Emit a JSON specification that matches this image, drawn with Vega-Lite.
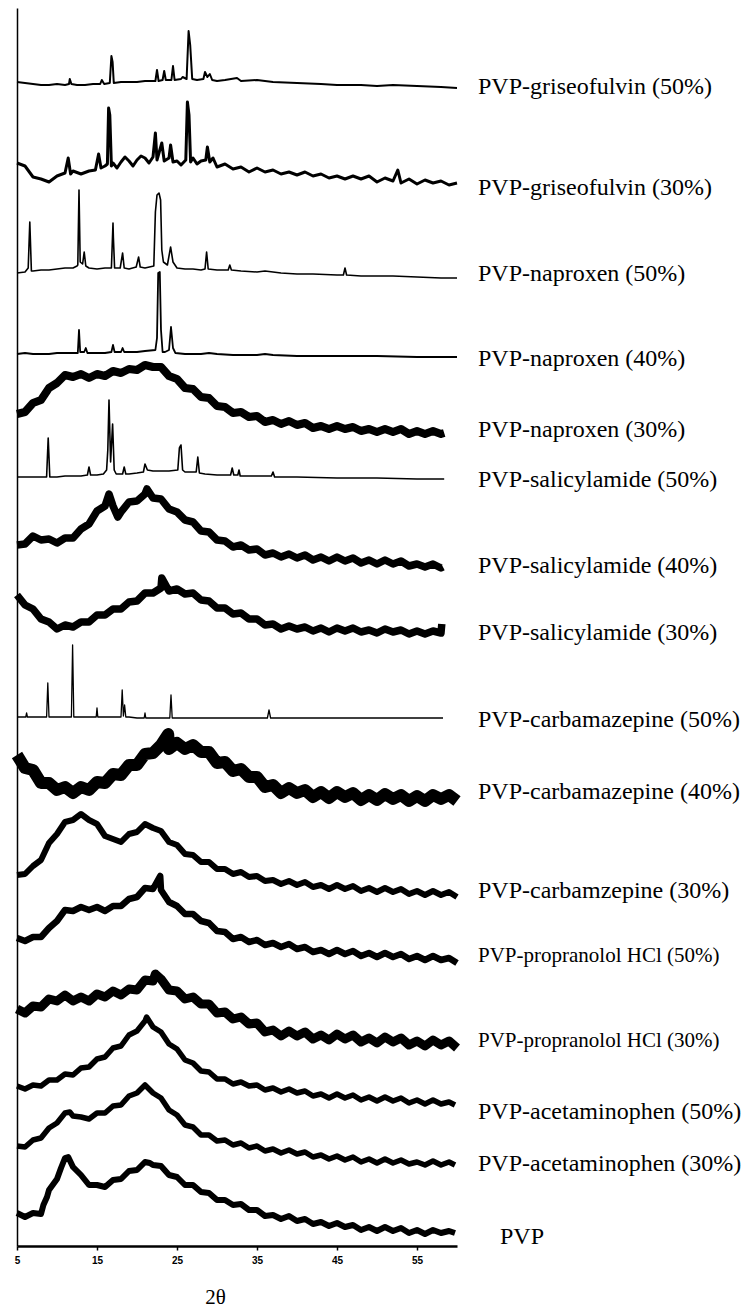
{
"$schema": "https://vega.github.io/schema/vega-lite/v6.json",
"width": 440, "height": 1238,
"autosize": {"type": "none"},
"padding": {"left": 17, "top": 8, "right": 286, "bottom": 63},
"background": "white",
"config": {"view": {"stroke": null}},
"datasets": {
"xrd": [
{"s":"g50","t":5,"i":1164},{"s":"g50","t":6,"i":1163},{"s":"g50","t":7,"i":1162},{"s":"g50","t":8,"i":1161},{"s":"g50","t":9,"i":1161},{"s":"g50","t":10,"i":1162},{"s":"g50","t":11,"i":1161},{"s":"g50","t":11.5,"i":1162},{"s":"g50","t":11.6,"i":1167},{"s":"g50","t":11.8,"i":1162},{"s":"g50","t":12.5,"i":1161},{"s":"g50","t":13.5,"i":1161},{"s":"g50","t":14.5,"i":1162},{"s":"g50","t":15.4,"i":1162},{"s":"g50","t":15.6,"i":1166},{"s":"g50","t":15.9,"i":1162},{"s":"g50","t":16.6,"i":1163},{"s":"g50","t":16.8,"i":1190},{"s":"g50","t":16.95,"i":1184},{"s":"g50","t":17.1,"i":1163},{"s":"g50","t":18,"i":1164},{"s":"g50","t":19,"i":1164},{"s":"g50","t":20,"i":1164},{"s":"g50","t":21,"i":1165},{"s":"g50","t":22.3,"i":1165},{"s":"g50","t":22.5,"i":1176},{"s":"g50","t":22.7,"i":1165},{"s":"g50","t":23.2,"i":1166},{"s":"g50","t":23.4,"i":1175},{"s":"g50","t":23.6,"i":1166},{"s":"g50","t":24.3,"i":1166},{"s":"g50","t":24.5,"i":1180},{"s":"g50","t":24.7,"i":1166},{"s":"g50","t":25.5,"i":1167},{"s":"g50","t":25.7,"i":1169},{"s":"g50","t":26.2,"i":1167},{"s":"g50","t":26.45,"i":1215},{"s":"g50","t":26.65,"i":1201},{"s":"g50","t":26.9,"i":1167},{"s":"g50","t":27.5,"i":1166},{"s":"g50","t":28.3,"i":1167},{"s":"g50","t":28.5,"i":1174},{"s":"g50","t":28.8,"i":1169},{"s":"g50","t":29.1,"i":1172},{"s":"g50","t":29.4,"i":1166},{"s":"g50","t":30,"i":1165},{"s":"g50","t":31,"i":1166},{"s":"g50","t":32.5,"i":1168},{"s":"g50","t":33,"i":1165},{"s":"g50","t":35,"i":1166},{"s":"g50","t":37,"i":1164},{"s":"g50","t":40,"i":1163},{"s":"g50","t":43,"i":1162},{"s":"g50","t":45,"i":1161},{"s":"g50","t":48,"i":1161},{"s":"g50","t":50,"i":1160},{"s":"g50","t":52,"i":1161},{"s":"g50","t":55,"i":1160},{"s":"g50","t":58,"i":1159},{"s":"g50","t":60,"i":1158},
{"s":"g30","t":5,"i":1083},{"s":"g30","t":6,"i":1080},{"s":"g30","t":7,"i":1069},{"s":"g30","t":8,"i":1067},{"s":"g30","t":9,"i":1064},{"s":"g30","t":10,"i":1070},{"s":"g30","t":11,"i":1073},{"s":"g30","t":11.4,"i":1088},{"s":"g30","t":11.7,"i":1072},{"s":"g30","t":12,"i":1075},{"s":"g30","t":13,"i":1072},{"s":"g30","t":14,"i":1075},{"s":"g30","t":14.8,"i":1076},{"s":"g30","t":15.2,"i":1092},{"s":"g30","t":15.5,"i":1078},{"s":"g30","t":16,"i":1080},{"s":"g30","t":16.3,"i":1082},{"s":"g30","t":16.45,"i":1138},{"s":"g30","t":16.6,"i":1131},{"s":"g30","t":16.8,"i":1080},{"s":"g30","t":17,"i":1083},{"s":"g30","t":17.5,"i":1078},{"s":"g30","t":18,"i":1084},{"s":"g30","t":18.5,"i":1089},{"s":"g30","t":19,"i":1085},{"s":"g30","t":19.5,"i":1080},{"s":"g30","t":20,"i":1086},{"s":"g30","t":20.5,"i":1090},{"s":"g30","t":21,"i":1088},{"s":"g30","t":21.5,"i":1083},{"s":"g30","t":22,"i":1089},{"s":"g30","t":22.3,"i":1113},{"s":"g30","t":22.5,"i":1086},{"s":"g30","t":23.1,"i":1103},{"s":"g30","t":23.4,"i":1085},{"s":"g30","t":24,"i":1088},{"s":"g30","t":24.2,"i":1101},{"s":"g30","t":24.5,"i":1084},{"s":"g30","t":25,"i":1085},{"s":"g30","t":25.5,"i":1081},{"s":"g30","t":26.1,"i":1086},{"s":"g30","t":26.3,"i":1144},{"s":"g30","t":26.5,"i":1131},{"s":"g30","t":26.7,"i":1084},{"s":"g30","t":27,"i":1088},{"s":"g30","t":27.5,"i":1082},{"s":"g30","t":28,"i":1085},{"s":"g30","t":28.6,"i":1086},{"s":"g30","t":28.8,"i":1099},{"s":"g30","t":29.1,"i":1084},{"s":"g30","t":29.5,"i":1088},{"s":"g30","t":30,"i":1079},{"s":"g30","t":31,"i":1082},{"s":"g30","t":32,"i":1077},{"s":"g30","t":33,"i":1079},{"s":"g30","t":34,"i":1074},{"s":"g30","t":35,"i":1078},{"s":"g30","t":36,"i":1074},{"s":"g30","t":37,"i":1076},{"s":"g30","t":38,"i":1072},{"s":"g30","t":39,"i":1074},{"s":"g30","t":40,"i":1071},{"s":"g30","t":41,"i":1074},{"s":"g30","t":42,"i":1070},{"s":"g30","t":43,"i":1072},{"s":"g30","t":44,"i":1068},{"s":"g30","t":45,"i":1070},{"s":"g30","t":46,"i":1067},{"s":"g30","t":47,"i":1070},{"s":"g30","t":48,"i":1067},{"s":"g30","t":49,"i":1070},{"s":"g30","t":50,"i":1064},{"s":"g30","t":51,"i":1068},{"s":"g30","t":52,"i":1065},{"s":"g30","t":52.6,"i":1076},{"s":"g30","t":53,"i":1063},{"s":"g30","t":54,"i":1067},{"s":"g30","t":55,"i":1062},{"s":"g30","t":56,"i":1066},{"s":"g30","t":57,"i":1063},{"s":"g30","t":58,"i":1065},{"s":"g30","t":59,"i":1061},{"s":"g30","t":60,"i":1063},
{"s":"n50","t":5,"i":973},{"s":"n50","t":6,"i":974},{"s":"n50","t":6.4,"i":978},{"s":"n50","t":6.6,"i":1024},{"s":"n50","t":6.8,"i":975},{"s":"n50","t":7,"i":975},{"s":"n50","t":8,"i":976},{"s":"n50","t":9,"i":976},{"s":"n50","t":10,"i":977},{"s":"n50","t":11,"i":978},{"s":"n50","t":12,"i":978},{"s":"n50","t":12.5,"i":980},{"s":"n50","t":12.6,"i":981},{"s":"n50","t":12.65,"i":1006},{"s":"n50","t":12.75,"i":1056},{"s":"n50","t":12.9,"i":984},{"s":"n50","t":13.2,"i":982},{"s":"n50","t":13.4,"i":994},{"s":"n50","t":13.6,"i":980},{"s":"n50","t":14,"i":978},{"s":"n50","t":15,"i":977},{"s":"n50","t":16,"i":978},{"s":"n50","t":16.8,"i":978},{"s":"n50","t":17,"i":1023},{"s":"n50","t":17.05,"i":1008},{"s":"n50","t":17.2,"i":978},{"s":"n50","t":17.9,"i":978},{"s":"n50","t":18.2,"i":993},{"s":"n50","t":18.4,"i":978},{"s":"n50","t":19,"i":977},{"s":"n50","t":19.9,"i":979},{"s":"n50","t":20.2,"i":989},{"s":"n50","t":20.4,"i":979},{"s":"n50","t":21,"i":978},{"s":"n50","t":22.1,"i":980},{"s":"n50","t":22.3,"i":1034},{"s":"n50","t":22.5,"i":1051},{"s":"n50","t":22.75,"i":1053},{"s":"n50","t":22.95,"i":1046},{"s":"n50","t":23.1,"i":996},{"s":"n50","t":23.3,"i":984},{"s":"n50","t":23.8,"i":981},{"s":"n50","t":24.2,"i":999},{"s":"n50","t":24.5,"i":984},{"s":"n50","t":25,"i":978},{"s":"n50","t":26,"i":977},{"s":"n50","t":27,"i":977},{"s":"n50","t":28,"i":976},{"s":"n50","t":28.5,"i":977},{"s":"n50","t":28.7,"i":994},{"s":"n50","t":28.9,"i":977},{"s":"n50","t":30,"i":976},{"s":"n50","t":31.4,"i":976},{"s":"n50","t":31.6,"i":981},{"s":"n50","t":31.8,"i":976},{"s":"n50","t":33,"i":975},{"s":"n50","t":35,"i":974},{"s":"n50","t":36,"i":975},{"s":"n50","t":38,"i":973},{"s":"n50","t":40,"i":972},{"s":"n50","t":42,"i":972},{"s":"n50","t":45,"i":971},{"s":"n50","t":45.8,"i":971},{"s":"n50","t":46,"i":978},{"s":"n50","t":46.2,"i":971},{"s":"n50","t":48,"i":970},{"s":"n50","t":50,"i":970},{"s":"n50","t":52,"i":970},{"s":"n50","t":55,"i":969},{"s":"n50","t":58,"i":968},{"s":"n50","t":60,"i":968},
{"s":"n40","t":5,"i":892},{"s":"n40","t":6,"i":893},{"s":"n40","t":7,"i":892},{"s":"n40","t":8,"i":892},{"s":"n40","t":9,"i":892},{"s":"n40","t":10,"i":893},{"s":"n40","t":11,"i":893},{"s":"n40","t":12,"i":893},{"s":"n40","t":12.6,"i":893},{"s":"n40","t":12.75,"i":916},{"s":"n40","t":12.9,"i":894},{"s":"n40","t":13.4,"i":894},{"s":"n40","t":13.6,"i":898},{"s":"n40","t":13.8,"i":893},{"s":"n40","t":15,"i":893},{"s":"n40","t":16,"i":893},{"s":"n40","t":16.8,"i":894},{"s":"n40","t":17,"i":901},{"s":"n40","t":17.2,"i":894},{"s":"n40","t":18,"i":894},{"s":"n40","t":18.2,"i":898},{"s":"n40","t":18.4,"i":894},{"s":"n40","t":19,"i":894},{"s":"n40","t":20,"i":894},{"s":"n40","t":21,"i":895},{"s":"n40","t":22.3,"i":896},{"s":"n40","t":22.5,"i":908},{"s":"n40","t":22.65,"i":973},{"s":"n40","t":22.85,"i":974},{"s":"n40","t":23,"i":916},{"s":"n40","t":23.2,"i":894},{"s":"n40","t":23.5,"i":894},{"s":"n40","t":24,"i":896},{"s":"n40","t":24.25,"i":919},{"s":"n40","t":24.5,"i":898},{"s":"n40","t":24.8,"i":893},{"s":"n40","t":26,"i":892},{"s":"n40","t":28,"i":892},{"s":"n40","t":29,"i":893},{"s":"n40","t":30,"i":892},{"s":"n40","t":32,"i":891},{"s":"n40","t":35,"i":891},{"s":"n40","t":36,"i":892},{"s":"n40","t":37,"i":891},{"s":"n40","t":40,"i":890},{"s":"n40","t":45,"i":890},{"s":"n40","t":50,"i":890},{"s":"n40","t":55,"i":889},{"s":"n40","t":60,"i":889},
{"s":"n30","t":5,"i":832},{"s":"n30","t":6,"i":834},{"s":"n30","t":7,"i":843},{"s":"n30","t":8,"i":846},{"s":"n30","t":9,"i":858},{"s":"n30","t":10,"i":863},{"s":"n30","t":11,"i":871},{"s":"n30","t":12,"i":869},{"s":"n30","t":13,"i":872},{"s":"n30","t":14,"i":868},{"s":"n30","t":15,"i":872},{"s":"n30","t":16,"i":870},{"s":"n30","t":17,"i":875},{"s":"n30","t":18,"i":873},{"s":"n30","t":19,"i":877},{"s":"n30","t":20,"i":876},{"s":"n30","t":21,"i":881},{"s":"n30","t":22,"i":879},{"s":"n30","t":23,"i":879},{"s":"n30","t":24,"i":870},{"s":"n30","t":25,"i":867},{"s":"n30","t":26,"i":858},{"s":"n30","t":27,"i":857},{"s":"n30","t":28,"i":849},{"s":"n30","t":29,"i":848},{"s":"n30","t":30,"i":840},{"s":"n30","t":31,"i":839},{"s":"n30","t":32,"i":833},{"s":"n30","t":33,"i":834},{"s":"n30","t":34,"i":829},{"s":"n30","t":35,"i":830},{"s":"n30","t":36,"i":824},{"s":"n30","t":37,"i":826},{"s":"n30","t":38,"i":822},{"s":"n30","t":39,"i":825},{"s":"n30","t":40,"i":821},{"s":"n30","t":41,"i":823},{"s":"n30","t":42,"i":818},{"s":"n30","t":43,"i":820},{"s":"n30","t":44,"i":817},{"s":"n30","t":45,"i":820},{"s":"n30","t":46,"i":817},{"s":"n30","t":47,"i":819},{"s":"n30","t":48,"i":815},{"s":"n30","t":49,"i":817},{"s":"n30","t":50,"i":814},{"s":"n30","t":51,"i":817},{"s":"n30","t":52,"i":814},{"s":"n30","t":53,"i":817},{"s":"n30","t":54,"i":812},{"s":"n30","t":55,"i":815},{"s":"n30","t":56,"i":812},{"s":"n30","t":57,"i":815},{"s":"n30","t":58,"i":812},{"s":"n30","t":58.4,"i":813},
{"s":"s50","t":5,"i":769},{"s":"s50","t":6,"i":769},{"s":"s50","t":7,"i":769},{"s":"s50","t":8,"i":769},{"s":"s50","t":8.7,"i":769},{"s":"s50","t":8.9,"i":808},{"s":"s50","t":9.1,"i":769},{"s":"s50","t":10,"i":769},{"s":"s50","t":11,"i":770},{"s":"s50","t":12,"i":770},{"s":"s50","t":13,"i":770},{"s":"s50","t":13.8,"i":771},{"s":"s50","t":14,"i":779},{"s":"s50","t":14.2,"i":771},{"s":"s50","t":15,"i":771},{"s":"s50","t":15.8,"i":772},{"s":"s50","t":16.2,"i":776},{"s":"s50","t":16.35,"i":796},{"s":"s50","t":16.5,"i":846},{"s":"s50","t":16.7,"i":784},{"s":"s50","t":16.95,"i":822},{"s":"s50","t":17.15,"i":776},{"s":"s50","t":17.4,"i":772},{"s":"s50","t":18.2,"i":772},{"s":"s50","t":18.4,"i":779},{"s":"s50","t":18.6,"i":772},{"s":"s50","t":19,"i":772},{"s":"s50","t":20,"i":773},{"s":"s50","t":20.8,"i":774},{"s":"s50","t":21,"i":782},{"s":"s50","t":21.3,"i":776},{"s":"s50","t":22,"i":775},{"s":"s50","t":23,"i":775},{"s":"s50","t":24,"i":775},{"s":"s50","t":25.1,"i":776},{"s":"s50","t":25.3,"i":798},{"s":"s50","t":25.5,"i":801},{"s":"s50","t":25.7,"i":776},{"s":"s50","t":26,"i":774},{"s":"s50","t":27.4,"i":774},{"s":"s50","t":27.6,"i":789},{"s":"s50","t":27.8,"i":773},{"s":"s50","t":28.5,"i":772},{"s":"s50","t":30,"i":771},{"s":"s50","t":31.7,"i":771},{"s":"s50","t":31.9,"i":778},{"s":"s50","t":32.1,"i":771},{"s":"s50","t":32.6,"i":771},{"s":"s50","t":32.75,"i":776},{"s":"s50","t":32.9,"i":770},{"s":"s50","t":34,"i":770},{"s":"s50","t":36.8,"i":770},{"s":"s50","t":37,"i":774},{"s":"s50","t":37.2,"i":769},{"s":"s50","t":40,"i":769},{"s":"s50","t":45,"i":768},{"s":"s50","t":50,"i":768},{"s":"s50","t":55,"i":767},{"s":"s50","t":58.4,"i":767},
{"s":"s40","t":5,"i":701},{"s":"s40","t":6,"i":702},{"s":"s40","t":7,"i":710},{"s":"s40","t":8,"i":706},{"s":"s40","t":9,"i":707},{"s":"s40","t":10,"i":703},{"s":"s40","t":11,"i":708},{"s":"s40","t":12,"i":708},{"s":"s40","t":13,"i":717},{"s":"s40","t":14,"i":722},{"s":"s40","t":15,"i":735},{"s":"s40","t":16,"i":740},{"s":"s40","t":16.5,"i":752},{"s":"s40","t":17,"i":740},{"s":"s40","t":17.6,"i":729},{"s":"s40","t":18,"i":734},{"s":"s40","t":19,"i":744},{"s":"s40","t":20,"i":745},{"s":"s40","t":21,"i":752},{"s":"s40","t":21.25,"i":757},{"s":"s40","t":22,"i":748},{"s":"s40","t":23,"i":747},{"s":"s40","t":24,"i":737},{"s":"s40","t":25,"i":734},{"s":"s40","t":26,"i":726},{"s":"s40","t":27,"i":724},{"s":"s40","t":28,"i":715},{"s":"s40","t":29,"i":714},{"s":"s40","t":30,"i":706},{"s":"s40","t":31,"i":705},{"s":"s40","t":32,"i":699},{"s":"s40","t":33,"i":701},{"s":"s40","t":34,"i":696},{"s":"s40","t":35,"i":697},{"s":"s40","t":36,"i":691},{"s":"s40","t":37,"i":693},{"s":"s40","t":38,"i":689},{"s":"s40","t":39,"i":692},{"s":"s40","t":40,"i":688},{"s":"s40","t":41,"i":691},{"s":"s40","t":42,"i":686},{"s":"s40","t":43,"i":689},{"s":"s40","t":44,"i":685},{"s":"s40","t":45,"i":689},{"s":"s40","t":46,"i":685},{"s":"s40","t":47,"i":688},{"s":"s40","t":48,"i":683},{"s":"s40","t":49,"i":686},{"s":"s40","t":50,"i":682},{"s":"s40","t":51,"i":686},{"s":"s40","t":52,"i":682},{"s":"s40","t":53,"i":685},{"s":"s40","t":54,"i":680},{"s":"s40","t":55,"i":682},{"s":"s40","t":56,"i":679},{"s":"s40","t":57,"i":682},{"s":"s40","t":58,"i":678},{"s":"s40","t":58.25,"i":679},
{"s":"s30","t":5,"i":651},{"s":"s30","t":6,"i":641},{"s":"s30","t":7,"i":637},{"s":"s30","t":8,"i":627},{"s":"s30","t":9,"i":624},{"s":"s30","t":10,"i":617},{"s":"s30","t":11,"i":621},{"s":"s30","t":12,"i":619},{"s":"s30","t":13,"i":624},{"s":"s30","t":14,"i":624},{"s":"s30","t":15,"i":631},{"s":"s30","t":16,"i":631},{"s":"s30","t":17,"i":637},{"s":"s30","t":18,"i":637},{"s":"s30","t":19,"i":644},{"s":"s30","t":20,"i":645},{"s":"s30","t":21,"i":653},{"s":"s30","t":22,"i":653},{"s":"s30","t":23,"i":658},{"s":"s30","t":23.1,"i":668},{"s":"s30","t":24,"i":655},{"s":"s30","t":25,"i":657},{"s":"s30","t":26,"i":652},{"s":"s30","t":27,"i":653},{"s":"s30","t":28,"i":646},{"s":"s30","t":29,"i":645},{"s":"s30","t":30,"i":638},{"s":"s30","t":31,"i":638},{"s":"s30","t":32,"i":632},{"s":"s30","t":33,"i":633},{"s":"s30","t":34,"i":627},{"s":"s30","t":35,"i":627},{"s":"s30","t":36,"i":621},{"s":"s30","t":37,"i":622},{"s":"s30","t":38,"i":617},{"s":"s30","t":39,"i":620},{"s":"s30","t":40,"i":617},{"s":"s30","t":41,"i":619},{"s":"s30","t":42,"i":615},{"s":"s30","t":43,"i":618},{"s":"s30","t":44,"i":614},{"s":"s30","t":45,"i":618},{"s":"s30","t":46,"i":615},{"s":"s30","t":47,"i":618},{"s":"s30","t":48,"i":614},{"s":"s30","t":49,"i":616},{"s":"s30","t":50,"i":613},{"s":"s30","t":51,"i":617},{"s":"s30","t":52,"i":614},{"s":"s30","t":53,"i":616},{"s":"s30","t":54,"i":612},{"s":"s30","t":55,"i":615},{"s":"s30","t":56,"i":612},{"s":"s30","t":57,"i":615},{"s":"s30","t":58,"i":613},{"s":"s30","t":58.1,"i":622},
{"s":"c50","t":5,"i":529},{"s":"c50","t":6,"i":529},{"s":"c50","t":6.1,"i":529},{"s":"c50","t":6.2,"i":533},{"s":"c50","t":6.3,"i":529},{"s":"c50","t":7,"i":529},{"s":"c50","t":8,"i":529},{"s":"c50","t":8.7,"i":529},{"s":"c50","t":8.85,"i":563},{"s":"c50","t":9,"i":529},{"s":"c50","t":10,"i":529},{"s":"c50","t":11,"i":529},{"s":"c50","t":11.8,"i":529},{"s":"c50","t":11.95,"i":601},{"s":"c50","t":12.1,"i":529},{"s":"c50","t":13,"i":529},{"s":"c50","t":14,"i":529},{"s":"c50","t":14.9,"i":529},{"s":"c50","t":15,"i":538},{"s":"c50","t":15.1,"i":529},{"s":"c50","t":16,"i":529},{"s":"c50","t":17,"i":529},{"s":"c50","t":18,"i":529},{"s":"c50","t":18.15,"i":556},{"s":"c50","t":18.3,"i":530},{"s":"c50","t":18.45,"i":541},{"s":"c50","t":18.6,"i":529},{"s":"c50","t":19,"i":529},{"s":"c50","t":20,"i":528},{"s":"c50","t":20.9,"i":528},{"s":"c50","t":21,"i":533},{"s":"c50","t":21.1,"i":528},{"s":"c50","t":22,"i":528},{"s":"c50","t":23,"i":528},{"s":"c50","t":24.1,"i":528},{"s":"c50","t":24.25,"i":551},{"s":"c50","t":24.4,"i":528},{"s":"c50","t":25,"i":528},{"s":"c50","t":27,"i":528},{"s":"c50","t":30,"i":528},{"s":"c50","t":33,"i":528},{"s":"c50","t":36.3,"i":528},{"s":"c50","t":36.5,"i":536},{"s":"c50","t":36.7,"i":528},{"s":"c50","t":40,"i":528},{"s":"c50","t":45,"i":528},{"s":"c50","t":50,"i":528},{"s":"c50","t":55,"i":528},{"s":"c50","t":58.25,"i":528},
{"s":"c40","t":5,"i":491},{"s":"c40","t":6,"i":478},{"s":"c40","t":7,"i":476},{"s":"c40","t":8,"i":463},{"s":"c40","t":9,"i":463},{"s":"c40","t":10,"i":456},{"s":"c40","t":11,"i":459},{"s":"c40","t":12,"i":453},{"s":"c40","t":13,"i":459},{"s":"c40","t":14,"i":456},{"s":"c40","t":15,"i":464},{"s":"c40","t":16,"i":463},{"s":"c40","t":17,"i":472},{"s":"c40","t":18,"i":471},{"s":"c40","t":19,"i":481},{"s":"c40","t":20,"i":481},{"s":"c40","t":21,"i":492},{"s":"c40","t":22,"i":493},{"s":"c40","t":23,"i":501},{"s":"c40","t":23.9,"i":512},{"s":"c40","t":24,"i":497},{"s":"c40","t":25,"i":503},{"s":"c40","t":26,"i":497},{"s":"c40","t":27,"i":501},{"s":"c40","t":28,"i":494},{"s":"c40","t":29,"i":494},{"s":"c40","t":30,"i":483},{"s":"c40","t":31,"i":484},{"s":"c40","t":32,"i":475},{"s":"c40","t":33,"i":477},{"s":"c40","t":34,"i":469},{"s":"c40","t":35,"i":469},{"s":"c40","t":36,"i":459},{"s":"c40","t":37,"i":461},{"s":"c40","t":38,"i":453},{"s":"c40","t":39,"i":458},{"s":"c40","t":40,"i":453},{"s":"c40","t":41,"i":456},{"s":"c40","t":42,"i":449},{"s":"c40","t":43,"i":454},{"s":"c40","t":44,"i":448},{"s":"c40","t":45,"i":454},{"s":"c40","t":46,"i":449},{"s":"c40","t":47,"i":453},{"s":"c40","t":48,"i":446},{"s":"c40","t":49,"i":451},{"s":"c40","t":50,"i":446},{"s":"c40","t":51,"i":452},{"s":"c40","t":52,"i":447},{"s":"c40","t":53,"i":451},{"s":"c40","t":54,"i":445},{"s":"c40","t":55,"i":450},{"s":"c40","t":56,"i":445},{"s":"c40","t":57,"i":451},{"s":"c40","t":58,"i":447},{"s":"c40","t":59,"i":451},{"s":"c40","t":60,"i":445},
{"s":"c30","t":5,"i":371},{"s":"c30","t":6,"i":372},{"s":"c30","t":7,"i":380},{"s":"c30","t":8,"i":386},{"s":"c30","t":9,"i":403},{"s":"c30","t":10,"i":412},{"s":"c30","t":11,"i":424},{"s":"c30","t":12,"i":426},{"s":"c30","t":13,"i":432},{"s":"c30","t":14,"i":426},{"s":"c30","t":15,"i":422},{"s":"c30","t":16,"i":410},{"s":"c30","t":17,"i":407},{"s":"c30","t":18,"i":404},{"s":"c30","t":19,"i":412},{"s":"c30","t":20,"i":414},{"s":"c30","t":21,"i":422},{"s":"c30","t":22,"i":418},{"s":"c30","t":23,"i":415},{"s":"c30","t":24,"i":404},{"s":"c30","t":25,"i":401},{"s":"c30","t":26,"i":392},{"s":"c30","t":27,"i":391},{"s":"c30","t":28,"i":384},{"s":"c30","t":29,"i":384},{"s":"c30","t":30,"i":377},{"s":"c30","t":31,"i":377},{"s":"c30","t":32,"i":372},{"s":"c30","t":33,"i":374},{"s":"c30","t":34,"i":369},{"s":"c30","t":35,"i":370},{"s":"c30","t":36,"i":365},{"s":"c30","t":37,"i":366},{"s":"c30","t":38,"i":362},{"s":"c30","t":39,"i":365},{"s":"c30","t":40,"i":361},{"s":"c30","t":41,"i":364},{"s":"c30","t":42,"i":359},{"s":"c30","t":43,"i":361},{"s":"c30","t":44,"i":357},{"s":"c30","t":45,"i":361},{"s":"c30","t":46,"i":357},{"s":"c30","t":47,"i":360},{"s":"c30","t":48,"i":355},{"s":"c30","t":49,"i":358},{"s":"c30","t":50,"i":354},{"s":"c30","t":51,"i":358},{"s":"c30","t":52,"i":354},{"s":"c30","t":53,"i":357},{"s":"c30","t":54,"i":352},{"s":"c30","t":55,"i":355},{"s":"c30","t":56,"i":351},{"s":"c30","t":57,"i":355},{"s":"c30","t":58,"i":351},{"s":"c30","t":59,"i":354},{"s":"c30","t":60,"i":349},
{"s":"p50","t":5,"i":308},{"s":"p50","t":6,"i":305},{"s":"p50","t":7,"i":309},{"s":"p50","t":8,"i":309},{"s":"p50","t":9,"i":318},{"s":"p50","t":10,"i":325},{"s":"p50","t":11,"i":336},{"s":"p50","t":12,"i":335},{"s":"p50","t":13,"i":339},{"s":"p50","t":14,"i":336},{"s":"p50","t":15,"i":339},{"s":"p50","t":16,"i":335},{"s":"p50","t":17,"i":340},{"s":"p50","t":18,"i":340},{"s":"p50","t":19,"i":347},{"s":"p50","t":20,"i":349},{"s":"p50","t":21,"i":358},{"s":"p50","t":22,"i":357},{"s":"p50","t":22.9,"i":370},{"s":"p50","t":23,"i":356},{"s":"p50","t":24,"i":344},{"s":"p50","t":25,"i":340},{"s":"p50","t":26,"i":332},{"s":"p50","t":27,"i":332},{"s":"p50","t":28,"i":325},{"s":"p50","t":29,"i":323},{"s":"p50","t":30,"i":315},{"s":"p50","t":31,"i":314},{"s":"p50","t":32,"i":307},{"s":"p50","t":33,"i":309},{"s":"p50","t":34,"i":304},{"s":"p50","t":35,"i":306},{"s":"p50","t":36,"i":301},{"s":"p50","t":37,"i":303},{"s":"p50","t":38,"i":299},{"s":"p50","t":39,"i":302},{"s":"p50","t":40,"i":297},{"s":"p50","t":41,"i":299},{"s":"p50","t":42,"i":294},{"s":"p50","t":43,"i":296},{"s":"p50","t":44,"i":292},{"s":"p50","t":45,"i":296},{"s":"p50","t":46,"i":292},{"s":"p50","t":47,"i":295},{"s":"p50","t":48,"i":290},{"s":"p50","t":49,"i":293},{"s":"p50","t":50,"i":289},{"s":"p50","t":51,"i":293},{"s":"p50","t":52,"i":289},{"s":"p50","t":53,"i":292},{"s":"p50","t":54,"i":287},{"s":"p50","t":55,"i":290},{"s":"p50","t":56,"i":286},{"s":"p50","t":57,"i":290},{"s":"p50","t":58,"i":286},{"s":"p50","t":59,"i":288},{"s":"p50","t":60,"i":283},
{"s":"p30","t":5,"i":237},{"s":"p30","t":6,"i":233},{"s":"p30","t":7,"i":240},{"s":"p30","t":8,"i":239},{"s":"p30","t":9,"i":247},{"s":"p30","t":10,"i":245},{"s":"p30","t":11,"i":251},{"s":"p30","t":12,"i":245},{"s":"p30","t":13,"i":249},{"s":"p30","t":14,"i":245},{"s":"p30","t":15,"i":252},{"s":"p30","t":16,"i":249},{"s":"p30","t":17,"i":255},{"s":"p30","t":18,"i":251},{"s":"p30","t":19,"i":257},{"s":"p30","t":20,"i":256},{"s":"p30","t":21,"i":266},{"s":"p30","t":22,"i":265},{"s":"p30","t":22.3,"i":272},{"s":"p30","t":23,"i":267},{"s":"p30","t":24,"i":256},{"s":"p30","t":25,"i":255},{"s":"p30","t":26,"i":247},{"s":"p30","t":27,"i":249},{"s":"p30","t":28,"i":242},{"s":"p30","t":29,"i":242},{"s":"p30","t":30,"i":233},{"s":"p30","t":31,"i":234},{"s":"p30","t":32,"i":227},{"s":"p30","t":33,"i":229},{"s":"p30","t":34,"i":222},{"s":"p30","t":35,"i":223},{"s":"p30","t":36,"i":214},{"s":"p30","t":37,"i":216},{"s":"p30","t":38,"i":210},{"s":"p30","t":39,"i":215},{"s":"p30","t":40,"i":210},{"s":"p30","t":41,"i":214},{"s":"p30","t":42,"i":207},{"s":"p30","t":43,"i":211},{"s":"p30","t":44,"i":206},{"s":"p30","t":45,"i":212},{"s":"p30","t":46,"i":207},{"s":"p30","t":47,"i":211},{"s":"p30","t":48,"i":204},{"s":"p30","t":49,"i":208},{"s":"p30","t":50,"i":203},{"s":"p30","t":51,"i":209},{"s":"p30","t":52,"i":204},{"s":"p30","t":53,"i":208},{"s":"p30","t":54,"i":201},{"s":"p30","t":55,"i":205},{"s":"p30","t":56,"i":200},{"s":"p30","t":57,"i":206},{"s":"p30","t":58,"i":201},{"s":"p30","t":59,"i":205},{"s":"p30","t":60,"i":198},
{"s":"a50","t":5,"i":160},{"s":"a50","t":6,"i":157},{"s":"a50","t":7,"i":161},{"s":"a50","t":8,"i":160},{"s":"a50","t":9,"i":166},{"s":"a50","t":10,"i":166},{"s":"a50","t":11,"i":172},{"s":"a50","t":12,"i":171},{"s":"a50","t":13,"i":178},{"s":"a50","t":14,"i":179},{"s":"a50","t":15,"i":187},{"s":"a50","t":16,"i":189},{"s":"a50","t":17,"i":198},{"s":"a50","t":18,"i":200},{"s":"a50","t":19,"i":211},{"s":"a50","t":20,"i":215},{"s":"a50","t":21,"i":225},{"s":"a50","t":21.2,"i":229},{"s":"a50","t":22,"i":219},{"s":"a50","t":23,"i":214},{"s":"a50","t":24,"i":202},{"s":"a50","t":25,"i":197},{"s":"a50","t":26,"i":186},{"s":"a50","t":27,"i":183},{"s":"a50","t":28,"i":175},{"s":"a50","t":29,"i":174},{"s":"a50","t":30,"i":167},{"s":"a50","t":31,"i":167},{"s":"a50","t":32,"i":162},{"s":"a50","t":33,"i":164},{"s":"a50","t":34,"i":160},{"s":"a50","t":35,"i":161},{"s":"a50","t":36,"i":156},{"s":"a50","t":37,"i":158},{"s":"a50","t":38,"i":154},{"s":"a50","t":39,"i":157},{"s":"a50","t":40,"i":153},{"s":"a50","t":41,"i":155},{"s":"a50","t":42,"i":150},{"s":"a50","t":43,"i":152},{"s":"a50","t":44,"i":148},{"s":"a50","t":45,"i":152},{"s":"a50","t":46,"i":148},{"s":"a50","t":47,"i":151},{"s":"a50","t":48,"i":146},{"s":"a50","t":49,"i":149},{"s":"a50","t":50,"i":145},{"s":"a50","t":51,"i":149},{"s":"a50","t":52,"i":145},{"s":"a50","t":53,"i":148},{"s":"a50","t":54,"i":143},{"s":"a50","t":55,"i":146},{"s":"a50","t":56,"i":142},{"s":"a50","t":57,"i":146},{"s":"a50","t":58,"i":142},{"s":"a50","t":59,"i":144},{"s":"a50","t":59.75,"i":141},
{"s":"a30","t":5,"i":100},{"s":"a30","t":6,"i":99},{"s":"a30","t":7,"i":106},{"s":"a30","t":8,"i":108},{"s":"a30","t":9,"i":118},{"s":"a30","t":10,"i":123},{"s":"a30","t":11,"i":133},{"s":"a30","t":11.6,"i":134},{"s":"a30","t":12,"i":130},{"s":"a30","t":13,"i":129},{"s":"a30","t":14,"i":127},{"s":"a30","t":15,"i":133},{"s":"a30","t":16,"i":133},{"s":"a30","t":17,"i":140},{"s":"a30","t":18,"i":141},{"s":"a30","t":19,"i":150},{"s":"a30","t":20,"i":153},{"s":"a30","t":21,"i":161},{"s":"a30","t":22,"i":153},{"s":"a30","t":23,"i":148},{"s":"a30","t":24,"i":136},{"s":"a30","t":25,"i":131},{"s":"a30","t":26,"i":121},{"s":"a30","t":27,"i":119},{"s":"a30","t":28,"i":111},{"s":"a30","t":29,"i":111},{"s":"a30","t":30,"i":105},{"s":"a30","t":31,"i":106},{"s":"a30","t":32,"i":101},{"s":"a30","t":33,"i":103},{"s":"a30","t":34,"i":98},{"s":"a30","t":35,"i":100},{"s":"a30","t":36,"i":95},{"s":"a30","t":37,"i":97},{"s":"a30","t":38,"i":93},{"s":"a30","t":39,"i":96},{"s":"a30","t":40,"i":92},{"s":"a30","t":41,"i":94},{"s":"a30","t":42,"i":89},{"s":"a30","t":43,"i":91},{"s":"a30","t":44,"i":87},{"s":"a30","t":45,"i":90},{"s":"a30","t":46,"i":86},{"s":"a30","t":47,"i":89},{"s":"a30","t":48,"i":84},{"s":"a30","t":49,"i":87},{"s":"a30","t":50,"i":83},{"s":"a30","t":51,"i":87},{"s":"a30","t":52,"i":83},{"s":"a30","t":53,"i":86},{"s":"a30","t":54,"i":82},{"s":"a30","t":55,"i":84},{"s":"a30","t":56,"i":81},{"s":"a30","t":57,"i":85},{"s":"a30","t":58,"i":81},{"s":"a30","t":59,"i":84},{"s":"a30","t":59.75,"i":81},
{"s":"pvp","t":5,"i":33},{"s":"pvp","t":6,"i":29},{"s":"pvp","t":7,"i":33},{"s":"pvp","t":8,"i":32},{"s":"pvp","t":8.3,"i":41},{"s":"pvp","t":8.75,"i":49},{"s":"pvp","t":9,"i":56},{"s":"pvp","t":10,"i":67},{"s":"pvp","t":10.5,"i":78},{"s":"pvp","t":11,"i":88},{"s":"pvp","t":11.4,"i":89},{"s":"pvp","t":12,"i":79},{"s":"pvp","t":13,"i":71},{"s":"pvp","t":14,"i":61},{"s":"pvp","t":15,"i":61},{"s":"pvp","t":16,"i":59},{"s":"pvp","t":17,"i":66},{"s":"pvp","t":18,"i":67},{"s":"pvp","t":19,"i":75},{"s":"pvp","t":20,"i":76},{"s":"pvp","t":21,"i":84},{"s":"pvp","t":21.6,"i":83},{"s":"pvp","t":22,"i":81},{"s":"pvp","t":23,"i":80},{"s":"pvp","t":24,"i":71},{"s":"pvp","t":25,"i":69},{"s":"pvp","t":26,"i":61},{"s":"pvp","t":27,"i":61},{"s":"pvp","t":28,"i":54},{"s":"pvp","t":29,"i":53},{"s":"pvp","t":30,"i":46},{"s":"pvp","t":31,"i":46},{"s":"pvp","t":32,"i":41},{"s":"pvp","t":33,"i":42},{"s":"pvp","t":34,"i":36},{"s":"pvp","t":35,"i":36},{"s":"pvp","t":36,"i":30},{"s":"pvp","t":37,"i":31},{"s":"pvp","t":38,"i":27},{"s":"pvp","t":39,"i":30},{"s":"pvp","t":40,"i":25},{"s":"pvp","t":41,"i":27},{"s":"pvp","t":42,"i":22},{"s":"pvp","t":43,"i":24},{"s":"pvp","t":44,"i":20},{"s":"pvp","t":45,"i":23},{"s":"pvp","t":46,"i":19},{"s":"pvp","t":47,"i":21},{"s":"pvp","t":48,"i":16},{"s":"pvp","t":49,"i":19},{"s":"pvp","t":50,"i":15},{"s":"pvp","t":51,"i":19},{"s":"pvp","t":52,"i":15},{"s":"pvp","t":53,"i":18},{"s":"pvp","t":54,"i":13},{"s":"pvp","t":55,"i":16},{"s":"pvp","t":56,"i":12},{"s":"pvp","t":57,"i":16},{"s":"pvp","t":58,"i":13},{"s":"pvp","t":59,"i":15},{"s":"pvp","t":59.75,"i":13}
],
"labels": [
{"label":"PVP-griseofulvin (50%)","t":62.625,"i":1159},
{"label":"PVP-griseofulvin (30%)","t":62.625,"i":1058},
{"label":"PVP-naproxen (50%)","t":62.625,"i":972},
{"label":"PVP-naproxen (40%)","t":62.625,"i":887},
{"label":"PVP-naproxen (30%)","t":62.625,"i":816},
{"label":"PVP-salicylamide (50%)","t":62.625,"i":766},
{"label":"PVP-salicylamide (40%)","t":62.625,"i":680},
{"label":"PVP-salicylamide (30%)","t":62.625,"i":613},
{"label":"PVP-carbamazepine (50%)","t":62.625,"i":526},
{"label":"PVP-carbamazepine (40%)","t":62.625,"i":454},
{"label":"PVP-carbamzepine (30%)","t":62.625,"i":355},
{"label":"PVP-propranolol HCl (50%)","t":62.625,"i":290},
{"label":"PVP-propranolol HCl (30%)","t":62.625,"i":205},
{"label":"PVP-acetaminophen (50%)","t":62.625,"i":134},
{"label":"PVP-acetaminophen (30%)","t":62.625,"i":82},
{"label":"PVP","t":65.375,"i":9}
]
},
"layer": [
{
"data": {"name": "xrd"},
"mark": {"type": "line", "color": "black", "strokeJoin": "round", "strokeCap": "butt"},
"encoding": {
"x": {"field": "t", "type": "quantitative", "scale": {"domain": [5, 60], "nice": false, "zero": false},
"axis": {"values": [5, 15, 25, 35, 45, 55], "title": "2θ", "titleFont": "Liberation Serif", "titleFontSize": 21, "titleFontWeight": "normal", "titleColor": "black", "titleX": 198, "titleY": 51, "titleAlign": "center", "titleBaseline": "middle", "labelFont": "Liberation Sans", "labelFontSize": 10, "labelFontWeight": "bold", "labelColor": "black", "labelPadding": 5, "labelFlush": false, "tickSize": 4, "tickColor": "black", "tickWidth": 1.5, "domainColor": "black", "domainWidth": 2.5, "grid": false}},
"y": {"field": "i", "type": "quantitative", "scale": {"domain": [0, 1238], "nice": false, "zero": false},
"axis": {"domain": true, "domainColor": "black", "domainWidth": 1.5, "labels": false, "ticks": false, "title": null, "grid": false}},
"detail": {"field": "s", "type": "nominal"},
"strokeWidth": {"field": "s", "type": "nominal", "legend": null,
"scale": {"type": "ordinal", "domain": ["g50","g30","n50","n40","n30","s50","s40","s30","c50","c40","c30","p50","p30","a50","a30","pvp"], "range": [2, 3, 1.6, 1.8, 8, 1.6, 7.5, 7.5, 1.3, 12, 6, 6.5, 9, 5.5, 5.5, 6]}}
}
},
{
"data": {"name": "labels"},
"transform": [{"filter": "indexof(datum.label, 'propranolol') < 0"}],
"mark": {"type": "text", "align": "left", "baseline": "middle", "font": "Liberation Serif", "fontSize": 24, "color": "black"},
"encoding": {
"x": {"field": "t", "type": "quantitative"},
"y": {"field": "i", "type": "quantitative"},
"text": {"field": "label", "type": "nominal"}
}
},
{
"data": {"name": "labels"},
"transform": [{"filter": "indexof(datum.label, 'propranolol') >= 0"}],
"mark": {"type": "text", "align": "left", "baseline": "middle", "font": "Liberation Serif", "fontSize": 21, "color": "black"},
"encoding": {
"x": {"field": "t", "type": "quantitative"},
"y": {"field": "i", "type": "quantitative"},
"text": {"field": "label", "type": "nominal"}
}
}
]
}
